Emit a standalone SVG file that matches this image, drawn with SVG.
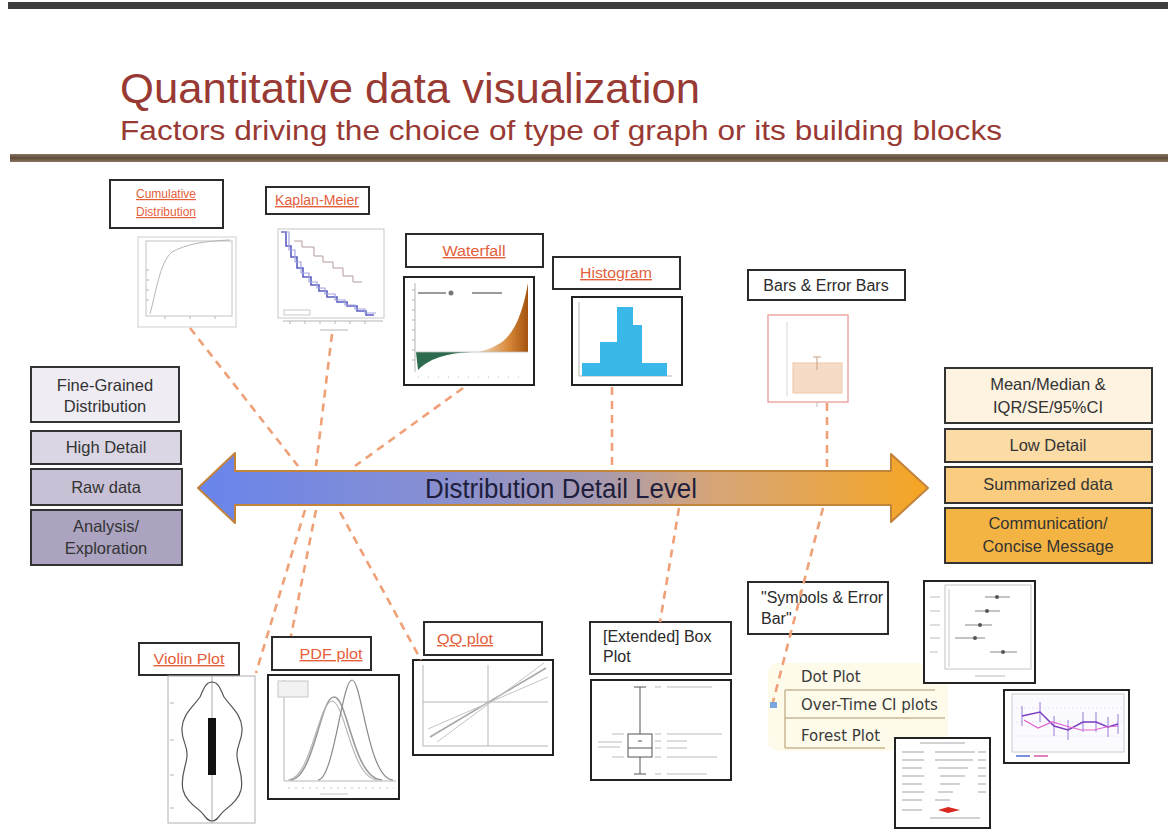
<svg xmlns="http://www.w3.org/2000/svg" width="1168" height="839" viewBox="0 0 1168 839">
<defs>
<style>
text{font-family:"Liberation Sans",Arial,sans-serif}
.ttl{fill:#983A33}
.lb{fill:#fff;stroke:#2b2b2b;stroke-width:2}
.lnk{fill:#E4603C;font-size:14px;text-decoration:underline;text-anchor:middle}
.blk{fill:#2a2a2a;font-size:16px}
.fr{fill:#fff;stroke:#222;stroke-width:2}
.lf{fill:none;stroke:#c4c4c4;stroke-width:1}
.side{stroke:#333;stroke-width:2}
.st{fill:#333;font-size:16.5px;text-anchor:middle}
.dash{fill:none;stroke:#EFA077;stroke-width:2.6;stroke-dasharray:8 6}
.g{stroke:#b5b5b5;stroke-width:1;fill:none}
.menu{font-family:"DejaVu Sans",sans-serif;font-size:15px;fill:#3a3a3a}
</style>
<linearGradient id="arr" x1="198" y1="0" x2="928" y2="0" gradientUnits="userSpaceOnUse">
<stop offset="0" stop-color="#6884EC"/>
<stop offset="0.35" stop-color="#8A90CF"/>
<stop offset="0.55" stop-color="#A79AB0"/>
<stop offset="0.7" stop-color="#D5A57A"/>
<stop offset="1" stop-color="#F6A623"/>
</linearGradient>
<linearGradient id="brown" x1="0" y1="0" x2="0" y2="1">
<stop offset="0" stop-color="#8A7560"/>
<stop offset="0.5" stop-color="#5E4B3A"/>
<stop offset="1" stop-color="#8A7560"/>
</linearGradient>
<linearGradient id="wf" x1="0" y1="0" x2="1" y2="0">
<stop offset="0" stop-color="#F1DCC0"/>
<stop offset="0.6" stop-color="#D98A3A"/>
<stop offset="1" stop-color="#A4520F"/>
</linearGradient>
</defs>
<rect width="1168" height="839" fill="#fff"/>
<rect x="8" y="2" width="1160" height="7" fill="#3d3d3d"/>
<text class="ttl" x="120" y="103" font-size="42" textLength="580" lengthAdjust="spacingAndGlyphs">Quantitative data visualization</text>
<text class="ttl" x="120" y="140" font-size="28" textLength="882" lengthAdjust="spacingAndGlyphs">Factors driving the choice of type of graph or its building blocks</text>
<rect x="10" y="154" width="1158" height="8" fill="url(#brown)"/>

<g id="arrow">
<path d="M198,488 L235,453 L235,471 L891,471 L891,454 L928,488 L891,522 L891,505 L235,505 L235,523 Z" fill="url(#arr)" stroke="#C3843A" stroke-width="2" stroke-linejoin="round"/>
<text x="561" y="498" font-size="27" fill="#1E1E3C" text-anchor="middle" textLength="272" lengthAdjust="spacingAndGlyphs">Distribution Detail Level</text>
</g>

<g id="left-scale">
<rect class="side" x="31" y="367" width="148" height="55" fill="#EFEDF3"/>
<text class="st" x="105" y="391">Fine-Grained</text>
<text class="st" x="105" y="412">Distribution</text>
<rect class="side" x="31" y="431" width="150" height="33" fill="#DAD6E3"/>
<text class="st" x="106" y="453">High Detail</text>
<rect class="side" x="31" y="469" width="151" height="36" fill="#C8C1D5"/>
<text class="st" x="106" y="493">Raw data</text>
<rect class="side" x="31" y="510" width="151" height="55" fill="#ABA3BF"/>
<text class="st" x="106" y="532">Analysis/</text>
<text class="st" x="106" y="554">Exploration</text>
</g>

<g id="right-scale">
<rect class="side" x="945" y="368" width="207" height="55" fill="#FEF2E0"/>
<text class="st" x="1048" y="390">Mean/Median &amp;</text>
<text class="st" x="1048" y="413">IQR/SE/95%CI</text>
<rect class="side" x="945" y="429" width="207" height="33" fill="#FBDBA6"/>
<text class="st" x="1048" y="451">Low Detail</text>
<rect class="side" x="945" y="467" width="207" height="36" fill="#F9CC80"/>
<text class="st" x="1048" y="490">Summarized data</text>
<rect class="side" x="945" y="508" width="207" height="55" fill="#F4B443"/>
<text class="st" x="1048" y="529">Communication/</text>
<text class="st" x="1048" y="552">Concise Message</text>
</g>

<g id="cumulative">
<rect class="lb" x="110" y="180" width="113" height="48"/>
<text class="lnk" x="166" y="198" style="font-size:12px">Cumulative</text>
<text class="lnk" x="166" y="216" style="font-size:12px">Distribution</text>
<rect x="138" y="237" width="98" height="90" fill="#fff" stroke="#cfcfcf"/>
<rect class="lf" x="146" y="241" width="86" height="75"/>
<path d="M150,314 C156,292 160,262 172,252 C186,244 205,241 230,240" class="g"/>
<path d="M146,280h3M146,300h3M146,270h3M146,290h3M165,316v3M190,316v3M215,316v3" class="g"/>
</g>

<g id="kaplan-meier">
<rect class="lb" x="266" y="187" width="103" height="27"/>
<text class="lnk" x="317" y="205" textLength="84" lengthAdjust="spacingAndGlyphs">Kaplan-Meier</text>
<rect x="278" y="229" width="106" height="89" fill="#fff" stroke="#c8c8c8"/>
<path d="M281,232 H286 V246 H291 V257 H297 V268 H303 V277 H311 V285 H319 V291 H327 V297 H337 V302 H347 V306 H357 V311 H366 V315 H374" fill="none" stroke="#5A5EC2" stroke-width="1.6"/>
<path d="M281,232 H289 V250 H295 V262 H301 V273 H309 V282 H317 V288 H325 V294 H335 V300 H345 V305 H355 V309 H365 V313 H376" fill="none" stroke="#A3A3E0" stroke-width="1.2"/>
<path d="M294,241 H302 V247 H314 V256 H323 V262 H333 V268 H343 V276 H353 V282 H362" fill="none" stroke="#B59A9A" stroke-width="1"/>
<rect x="284" y="310" width="26" height="5" fill="none" stroke="#bbb" stroke-width="0.8"/>
<path d="M283,321h100M290,321v3M305,321v3M320,321v3M335,321v3M350,321v3M365,321v3M320,330h28" class="g"/>
</g>

<g id="waterfall">
<rect class="lb" x="406" y="234" width="137" height="33"/>
<text class="lnk" x="474" y="256" textLength="63" lengthAdjust="spacingAndGlyphs">Waterfall</text>
<rect class="fr" x="404" y="277" width="130" height="108"/>
<path d="M415,283 V372 M415,290h-3M415,300h-3M415,310h-3M415,320h-3M415,330h-3M415,340h-3M415,350h-3M415,360h-3" class="g"/>
<path d="M418,293h28M472,293h30" stroke="#9a9a9a" stroke-width="2"/>
<circle cx="451" cy="293" r="2.5" fill="#777"/>
<path d="M416,352 L472,352 C452,353 432,356 418,370 Z" fill="#2D6B4F"/>
<path d="M478,352 L528,352 L528,283 C523,312 515,332 502,342 C493,348 486,350 478,352 Z" fill="url(#wf)"/>
<path d="M416,352h112" stroke="#bbb" stroke-width="0.8"/>
<path d="M418,377h108" stroke="#bbb" stroke-width="1" stroke-dasharray="1 9"/>
</g>

<g id="histogram">
<rect class="lb" x="553" y="257" width="127" height="32"/>
<text class="lnk" x="616" y="278" textLength="72" lengthAdjust="spacingAndGlyphs">Histogram</text>
<rect class="fr" x="572" y="297" width="110" height="88"/>
<path d="M579,302 V376 H672" class="g"/>
<rect x="582" y="363" width="18" height="13" fill="#3BB8EA"/>
<rect x="600" y="342" width="17" height="34" fill="#3BB8EA"/>
<rect x="617" y="307" width="16" height="69" fill="#3BB8EA"/>
<rect x="633" y="325" width="9" height="51" fill="#3BB8EA"/>
<rect x="642" y="363" width="25" height="13" fill="#3BB8EA"/>
</g>

<g id="bars-error-bars">
<rect class="lb" x="748" y="270" width="157" height="30"/>
<text class="blk" x="826" y="291" text-anchor="middle" font-size="15">Bars &amp; Error Bars</text>
<rect x="768" y="315" width="80" height="87" fill="#fff" stroke="#EBA9A4" stroke-width="1.5"/>
<path d="M787,322 V396" stroke="#d6d6d6"/>
<rect x="793" y="363" width="49" height="30" fill="#F6DCC6" stroke="#EEC6A6"/>
<path d="M817,357 V370 M813,357 h8" stroke="#C9A080" stroke-width="1"/>
<path d="M817,402 v5" stroke="#bbb"/>
</g>

<g id="violin-plot">
<rect class="lb" x="139" y="643" width="100" height="32"/>
<text class="lnk" x="189" y="664" textLength="71" lengthAdjust="spacingAndGlyphs">Violin Plot</text>
<rect x="168" y="676" width="87" height="147" fill="#fff" stroke="#b0b0b0"/>
<path d="M212,676 V823" stroke="#aaa"/>
<path d="M212,682 C218,682 220,688 224,697 C232,708 241,714 242,728 C243,740 236,745 237,756 C238,768 244,776 241,790 C238,802 226,808 221,814 C218,818 216,821 212,821 C208,821 206,818 203,814 C198,808 186,802 183,790 C180,776 186,768 187,756 C188,745 181,740 182,728 C183,714 192,708 200,697 C204,688 206,682 212,682 Z" fill="none" stroke="#555" stroke-width="1.2"/>
<rect x="208" y="718" width="8" height="57" fill="#111"/>
<path d="M170,703h4M170,740h4M170,775h4M170,808h4" class="g"/>
</g>

<g id="pdf-plot">
<rect class="lb" x="272" y="637" width="99" height="33"/>
<text class="lnk" x="331" y="659" textLength="63" lengthAdjust="spacingAndGlyphs">PDF plot</text>
<rect class="fr" x="268" y="675" width="131" height="124"/>
<path d="M284,680 V781 H396" class="g"/>
<rect x="278" y="681" width="30" height="16" fill="#f2f2f2" stroke="#bbb" stroke-width="0.8"/>
<path d="M290,780 C314,779 320,697 334,697 C348,697 353,779 382,780" fill="none" stroke="#9a9a9a" stroke-width="1.6"/>
<path d="M288,780 C311,779 318,703 332,701 C346,703 351,779 378,780" fill="none" stroke="#b8b8b8" stroke-width="1.2"/>
<path d="M318,780 C334,779 342,680 352,680 C362,680 368,779 393,780" fill="none" stroke="#8a8a8a" stroke-width="1.2"/>
<path d="M288,788h106" stroke="#c8c8c8" stroke-dasharray="2 5"/>
<path d="M320,794h28" stroke="#c8c8c8"/>
</g>

<g id="qq-plot">
<rect class="lb" x="424" y="622" width="118" height="33"/>
<text class="lnk" x="437" y="644" style="text-anchor:start" textLength="56" lengthAdjust="spacingAndGlyphs">QQ plot</text>
<rect class="fr" x="413" y="660" width="140" height="95"/>
<path d="M423,665 V746 H548 M488,665 V746 M423,702 H548" class="g"/>
<path d="M430,737 L546,668" stroke="#a8a8a8" stroke-width="1.6"/>
<path d="M428,729 L548,677 M437,742 L544,663" stroke="#c4c4c4" stroke-width="1"/>
</g>

<g id="box-plot">
<rect class="lb" x="590" y="622" width="141" height="52"/>
<text class="blk" x="603" y="642">[Extended] Box</text>
<text class="blk" x="603" y="662">Plot</text>
<rect class="fr" x="591" y="680" width="140" height="100"/>
<path d="M640,687 V734 M640,757 V774 M634,687 h12 M634,774 h12" stroke="#555"/>
<rect x="628" y="734" width="24" height="23" fill="#fff" stroke="#555"/>
<path d="M628,748 h24 M638,741 h4" stroke="#555"/>
<path d="M655,687h6M667,687h45M655,734h6M667,734h55M655,741h6M667,741h20M655,748h6M667,748h20M655,757h6M667,757h50M655,774h6M667,774h40M612,734h12M598,742h24M598,747h22M612,757h12" stroke="#bbb" stroke-width="1.2"/>
</g>

<g id="bar-plot">
<rect class="lb" x="748" y="582" width="140" height="52"/>
<text class="blk" x="761" y="603">"Symbols &amp; Error</text>
<text class="blk" x="761" y="624">Bar"</text>
</g>

<g id="ci-plot-types">
<rect x="768" y="663" width="180" height="88" rx="10" fill="#FFFAE6" opacity="0.85"/>
<path d="M785,690 V748 M785,690 H935 M785,718 H945 M785,748 H885" stroke="#C7B791" stroke-width="1.5" fill="none"/>
<rect x="770" y="702" width="7" height="6" fill="#7BA7E0"/>
<text class="menu" x="801" y="682">Dot Plot</text>
<text class="menu" x="801" y="710">Over-Time CI plots</text>
<text class="menu" x="801" y="741">Forest Plot</text>
</g>

<g id="dot-plot-thumb">
<rect class="fr" x="924" y="581" width="111" height="102"/>
<rect x="945" y="585" width="86" height="84" fill="none" stroke="#c4c4c4"/>
<path d="M949,589 V667" stroke="#ccc"/>
<path d="M985,597h25M975,611h25M965,625h27M955,638h30M990,652h27" stroke="#888"/>
<circle cx="997" cy="597" r="2" fill="#555"/><circle cx="987" cy="611" r="2" fill="#555"/><circle cx="980" cy="625" r="2" fill="#555"/><circle cx="975" cy="638" r="2" fill="#555"/><circle cx="1003" cy="652" r="2" fill="#555"/>
<path d="M930,597h10M930,611h10M930,625h10M930,638h10M930,652h8M975,676h30" stroke="#bbb"/>
</g>

<g id="over-time-thumb">
<rect class="fr" x="1004" y="690" width="125" height="73"/>
<rect x="1012" y="694" width="112" height="58" fill="#fbfbff" stroke="#ccc"/>
<path d="M1012,708h112M1012,722h112M1012,736h112" stroke="#e6e6ee" stroke-dasharray="2 2"/>
<path d="M1022,706v20M1040,702v20M1054,716v20M1068,720v20M1083,712v20M1096,712v20M1108,717v20M1118,714v20" stroke="#9a78d8" stroke-width="1"/>
<polyline points="1022,716 1040,712 1054,726 1068,730 1083,722 1096,722 1108,727 1118,724" fill="none" stroke="#7B3FBF" stroke-width="1.5"/>
<polyline points="1024,720 1038,728 1052,722 1066,726 1081,730 1094,730 1106,727 1118,726" fill="none" stroke="#E060D0" stroke-width="1.2"/>
<path d="M1016,756h14" stroke="#7B8FE0" stroke-width="2"/><path d="M1034,756h14" stroke="#E080C0" stroke-width="2"/>
</g>

<g id="forest-thumb">
<rect class="fr" x="895" y="738" width="95" height="90"/>
<path d="M920,743h45M902,752h22M935,752h40M902,760h22M935,760h38M902,768h20M938,768h30M902,776h22M940,776h25M902,784h20M940,784h20M902,792h22M938,792h15M902,800h20M935,800h15M902,810h20M930,818h50M978,752h8M978,760h8M978,768h8M978,776h8M978,784h8M978,792h8" stroke="#c4c4c4" stroke-width="1.5"/>
<path d="M938,810 L948,807 L960,810 L948,813 Z" fill="#D8281F"/>
</g>

<g id="connectors">
<line class="dash" x1="190" y1="328" x2="298" y2="466"/>
<line class="dash" x1="332" y1="334" x2="316" y2="466"/>
<line class="dash" x1="463" y1="388" x2="355" y2="466"/>
<line class="dash" x1="305" y1="510" x2="256" y2="673"/>
<line class="dash" x1="316" y1="510" x2="291" y2="636"/>
<line class="dash" x1="340" y1="512" x2="421" y2="660"/>
<line class="dash" x1="612" y1="387" x2="612" y2="469"/>
<line class="dash" x1="827" y1="403" x2="827" y2="469"/>
<line class="dash" x1="679" y1="508" x2="660" y2="622"/>
<line class="dash" x1="823" y1="508" x2="773" y2="702"/>
</g>
</svg>
